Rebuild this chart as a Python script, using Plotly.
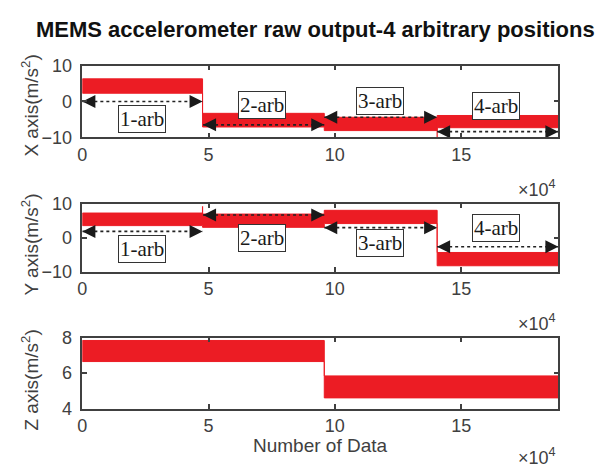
import plotly.graph_objects as go

W, H = 601, 476

# ---------------- data ----------------
x_steps = [0, 47600, 95800, 140500, 188500]
x_low = [2.3, -7.1, -8.1, -7.3]
x_high = [6.3, -3.3, -4.4, -3.9]

y_steps = [0, 47600, 95800, 140500, 188500]
y_low = [3.5, 3.0, 4.1, -8.3]
y_high = [7.2, 6.9, 8.0, -4.4]

z_steps = [0, 95800, 188500]
z_low = [6.65, 4.6]
z_high = [7.84, 5.84]

# isolated spikes at transitions: (x, from, to)
x_spike = [140500, -4.4, -10.0]
y_spike = [47600, 7.0, 9.2]

labels = ["1-arb", "2-arb", "3-arb", "4-arb"]
arrow_start = [0, 47800, 95800, 140500]
arrow_end = [47600, 95800, 140500, 188500]
label_x = [23800, 71000, 118000, 164000]

xp_arrow_y = [0, -6.5, -4.4, -8.4]
xp_label_y = [-4.9, -0.9, 0.1, -1.2]
yp_arrow_y = [1.8, 6.6, 2.9, -2.7]
yp_label_y = [-3.5, -0.1, -1.6, 2.9]

x_tickvals = [0, 50000, 100000, 150000]
x_ticktext = ["0", "5", "10", "15"]
xy_yticks = [-10, 0, 10]
z_yticks = [4, 6, 8]
y_titles = ["X axis(m/s<sup>2</sup>)", "Y axis(m/s<sup>2</sup>)", "Z axis(m/s<sup>2</sup>)"]
title = "MEMS accelerometer raw output-4 arbitrary positions"

# ---------------- layout geometry (pixels) ----------------
X0, X1 = 78, 558
panels = [(58, 133), (202, 273), (342, 416)]
RED = "#EC1C24"
AX = "#404040"
SANS = "Liberation Sans, Arial, sans-serif"
SERIF = "Liberation Serif, Times New Roman, serif"


def px(x):
    return x / W


def py(y):
    return 1 - y / H


def band(steps, low, high):
    xs, ys = [], []
    for i in range(len(low)):
        xs += [steps[i], steps[i + 1]]
        ys += [high[i], high[i]]
    for i in reversed(range(len(low))):
        xs += [steps[i + 1], steps[i]]
        ys += [low[i], low[i]]
    xs.append(xs[0])
    ys.append(ys[0])
    return xs, ys


fig = go.Figure()

for k, (steps, lo, hi) in enumerate([(x_steps, x_low, x_high), (y_steps, y_low, y_high), (z_steps, z_low, z_high)]):
    xs, ys = band(steps, lo, hi)
    suf = "" if k == 0 else str(k + 1)
    fig.add_trace(go.Scatter(x=xs, y=ys, mode="lines", fill="toself", fillcolor=RED,
                             line=dict(color=RED, width=1), xaxis="x" + suf, yaxis="y" + suf,
                             hoverinfo="skip", showlegend=False))

for k, sp in [(0, x_spike), (1, y_spike)]:
    suf = "" if k == 0 else str(k + 1)
    fig.add_trace(go.Scatter(x=[sp[0], sp[0]], y=[sp[1], sp[2]], mode="lines",
                             line=dict(color=RED, width=1.2), xaxis="x" + suf, yaxis="y" + suf,
                             hoverinfo="skip", showlegend=False))

annotations = []
for k, (ay_list, ly_list) in enumerate([(xp_arrow_y, xp_label_y), (yp_arrow_y, yp_label_y)]):
    suf = "" if k == 0 else str(k + 1)
    for i in range(4):
        fig.add_trace(go.Scatter(x=[arrow_start[i], arrow_end[i]], y=[ay_list[i], ay_list[i]],
                                 mode="lines", line=dict(color="#222222", width=1.6, dash="dot"),
                                 xaxis="x" + suf, yaxis="y" + suf, hoverinfo="skip", showlegend=False))
        fig.add_trace(go.Scatter(x=[arrow_start[i], arrow_end[i]], y=[ay_list[i], ay_list[i]],
                                 mode="markers",
                                 marker=dict(symbol=["arrow-left", "arrow-right"], size=13,
                                             color="#1a1a1a", line=dict(width=0)),
                                 xaxis="x" + suf, yaxis="y" + suf, hoverinfo="skip", showlegend=False,
                                 cliponaxis=False))
        annotations.append(dict(x=label_x[i], y=ly_list[i], xref="x" + suf, yref="y" + suf,
                                text=labels[i], showarrow=False,
                                font=dict(family=SERIF, size=21, color="#1a1a1a"),
                                bordercolor="#333333", borderwidth=1, borderpad=1, bgcolor="white"))

# y-axis titles
for k, yc in enumerate([100, 245, 386]):
    annotations.append(dict(x=px(25), y=py(yc), xref="paper", yref="paper", text=y_titles[k],
                            textangle=-90, showarrow=False, xanchor="center", yanchor="middle",
                            font=dict(family=SANS, size=19, color=AX)))
# x10^4 labels
for yc in [186, 326, 466]:
    annotations.append(dict(x=px(558), y=py(yc), xref="paper", yref="paper",
                            text="\u00d710<sup>4</sup>", showarrow=False, xanchor="right", yanchor="middle",
                            font=dict(family=SANS, size=18, color=AX)))
# x title
annotations.append(dict(x=px(318), y=py(455), xref="paper", yref="paper", text="Number of Data",
                        showarrow=False, xanchor="center", yanchor="middle",
                        font=dict(family=SANS, size=19, color=AX)))
# title
annotations.append(dict(x=px(313), y=py(20), xref="paper", yref="paper", text="<b>" + title + "</b>",
                        showarrow=False, xanchor="center", yanchor="middle",
                        font=dict(family=SANS, size=22, color="#111111")))

layout = dict(width=W, height=H, margin=dict(l=0, r=0, t=0, b=0),
              paper_bgcolor="white", plot_bgcolor="white", showlegend=False,
              annotations=annotations)

for k, (top, bot) in enumerate(panels):
    suf = "" if k == 0 else str(k + 1)
    yt = z_yticks if k == 2 else xy_yticks
    layout["xaxis" + suf] = dict(domain=[px(X0), px(X1)], range=[0, 188500], anchor="y" + suf,
                                 tickvals=x_tickvals, ticktext=x_ticktext, ticks="inside", ticklen=5,
                                 tickwidth=1.5, tickcolor=AX, showline=True, linecolor=AX, linewidth=1.5,
                                 mirror="ticks", showgrid=False, zeroline=False,
                                 tickfont=dict(family=SANS, size=18, color=AX))
    layout["yaxis" + suf] = dict(domain=[py(bot), py(top)], range=[yt[0], yt[-1]], anchor="x" + suf,
                                 tickvals=yt, ticks="inside", ticklen=5, tickwidth=1.5, tickcolor=AX,
                                 showline=True, linecolor=AX, linewidth=1.5, mirror="ticks",
                                 showgrid=False, zeroline=False, ticklabelstandoff=5,
                                 tickfont=dict(family=SANS, size=18, color=AX))

fig.update_layout(**layout)
fig.write_html("out.html")
